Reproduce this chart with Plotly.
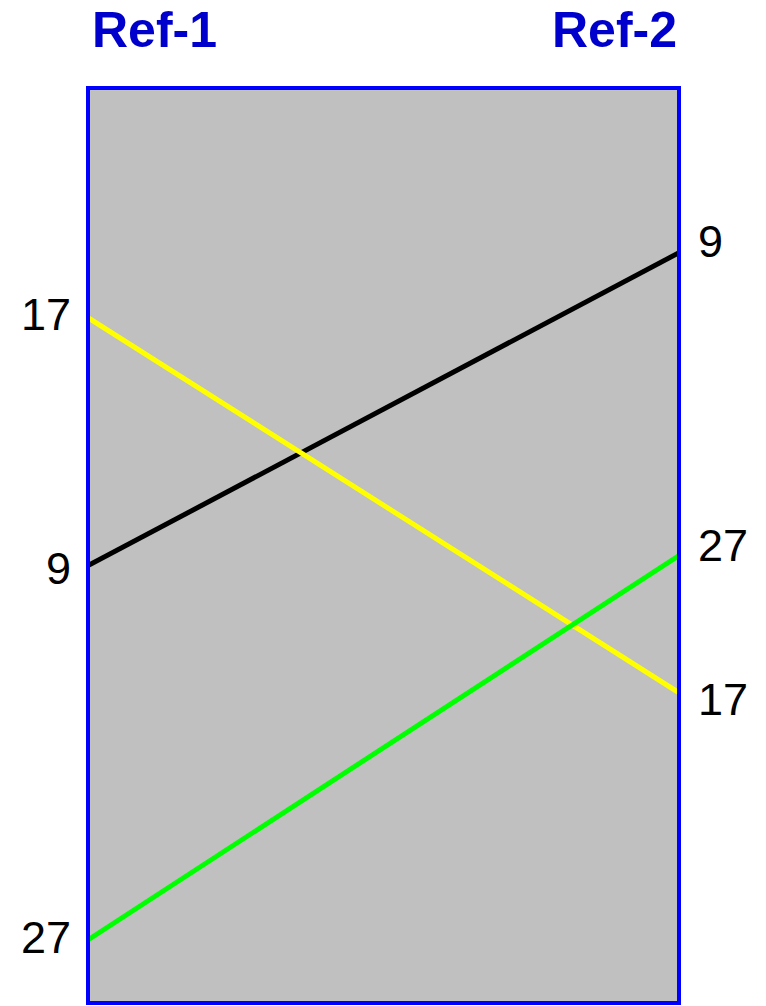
import plotly.graph_objects as go

# Data
columns = ["Ref-1", "Ref-2"]
series_names = ["9", "17", "27"]
series_colors = ["#000000", "#FFFF00", "#00FF00"]
ref1_pos = [52.2, 25.1, 93.1]
ref2_pos = [18.0, 66.1, 51.1]

# label vertical nudges (px), style only
left_shift = [-3, 3, 2]
right_shift = [11, -7, 10]

fig = go.Figure()
for name, color, a, b in zip(series_names, series_colors, ref1_pos, ref2_pos):
    fig.add_trace(go.Scatter(
        x=[0, 1], y=[a, b], mode="lines", name=name,
        line=dict(color=color, width=5), cliponaxis=False,
        showlegend=False, hoverinfo="skip"))

label_font = dict(family="Liberation Sans, Arial, sans-serif", size=45, color="black")
for name, a, b, ls, rs in zip(series_names, ref1_pos, ref2_pos, left_shift, right_shift):
    fig.add_annotation(x=0, y=a, xref="x", yref="y", text=name, showarrow=False,
                       xanchor="right", yanchor="middle", xshift=-15, yshift=ls, font=label_font)
    fig.add_annotation(x=1, y=b, xref="x", yref="y", text=name, showarrow=False,
                       xanchor="left", yanchor="middle", xshift=17, yshift=rs, font=label_font)

title_font = dict(family="Liberation Sans, Arial, sans-serif", size=50, color="#0000CD")
fig.add_annotation(x=0, y=1, xref="paper", yref="paper", text="<b>%s</b>" % columns[0],
                   showarrow=False, xanchor="left", yanchor="top", yshift=88, xshift=2,
                   font=title_font)
fig.add_annotation(x=1, y=1, xref="paper", yref="paper", text="<b>%s</b>" % columns[1],
                   showarrow=False, xanchor="right", yanchor="top", yshift=88, xshift=0,
                   font=title_font)

fig.add_shape(type="rect", xref="paper", yref="paper", x0=0, y0=0, x1=1, y1=1,
              line=dict(color="#0000FF", width=4), layer="above")

fig.update_layout(
    width=766, height=1006,
    margin=dict(l=88, r=87, t=88, b=3, pad=0),
    paper_bgcolor="white", plot_bgcolor="#C0C0C0",
    xaxis=dict(range=[0, 1], visible=False, fixedrange=True),
    yaxis=dict(range=[100, 0], visible=False, fixedrange=True),
)

fig.write_html("out.html", config={"displayModeBar": False},
               post_script="document.body.style.margin='0px';")
